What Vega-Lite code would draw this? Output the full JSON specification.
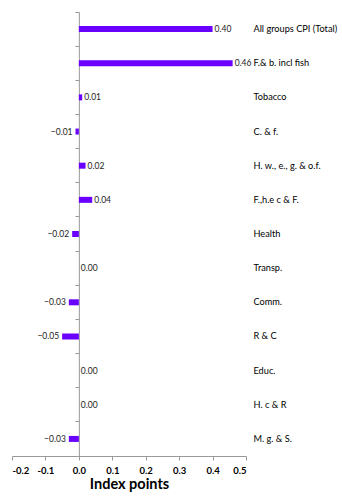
{
  "$schema": "https://vega.github.io/schema/vega-lite/v6.json",
  "autosize": "none",
  "width": 234,
  "height": 444,
  "padding": {"left": 12, "top": 12, "right": 96, "bottom": 43},
  "background": "white",
  "config": {
    "view": {"stroke": null},
    "font": "Lato"
  },
  "data": {
    "values": [
      {"group": "All groups CPI (Total)", "value": 0.40},
      {"group": "F.& b. incl fish", "value": 0.46},
      {"group": "Tobacco", "value": 0.01},
      {"group": "C. & f.", "value": -0.01},
      {"group": "H. w., e., g. & o.f.", "value": 0.02},
      {"group": "F.,h.e c & F.", "value": 0.04},
      {"group": "Health", "value": -0.02},
      {"group": "Transp.", "value": 0.00},
      {"group": "Comm.", "value": -0.03},
      {"group": "R & C", "value": -0.05},
      {"group": "Educ.", "value": 0.00},
      {"group": "H. c & R", "value": 0.00},
      {"group": "M. g. & S.", "value": -0.03}
    ]
  },
  "encoding": {
    "x": {
      "field": "value",
      "type": "quantitative",
      "scale": {"domain": [-0.2, 0.5], "nice": false, "zero": false},
      "axis": {
        "values": [-0.2, -0.1, 0, 0.1, 0.2, 0.3, 0.4, 0.5],
        "labelExpr": "replace(format(datum.value, '.1f'), '\u2212', '-')",
        "title": "Index points",
        "titleFontSize": 14.5,
        "titleFontWeight": "bold",
        "titleColor": "#000",
        "titlePadding": 3,
        "labelFontSize": 9.5,
        "labelFontWeight": "bold",
        "labelColor": "#000",
        "labelPadding": 5,
        "grid": false,
        "domainColor": "#999",
        "tickColor": "#999",
        "tickSize": 4
      }
    },
    "y": {
      "field": "group",
      "type": "nominal",
      "sort": null,
      "scale": {"paddingInner": 0, "paddingOuter": 0}
    }
  },
  "layer": [
    {
      "mark": {"type": "bar", "color": "#6a00ff", "size": 6},
      "encoding": {
        "y": {
          "field": "group",
          "type": "nominal",
          "sort": null,
          "axis": {
            "orient": "left",
            "offset": -66.86,
            "labels": false,
            "title": null,
            "bandPosition": 0,
            "domainColor": "#999",
            "tickColor": "#999",
            "tickSize": 4
          }
        }
      }
    },
    {
      "transform": [{"filter": "datum.value >= 0"}],
      "mark": {"type": "text", "align": "left", "dx": 2, "fontSize": 8.5, "color": "#222"},
      "encoding": {
        "text": {"field": "value", "type": "quantitative", "format": ".2f"},
        "y": {
          "field": "group",
          "type": "nominal",
          "sort": null,
          "axis": {
            "orient": "right",
            "title": null,
            "domain": false,
            "ticks": false,
            "labelPadding": 7,
            "labelFontSize": 9.2,
            "labelColor": "#000",
            "labelLimit": 100
          }
        }
      }
    },
    {
      "transform": [{"filter": "datum.value < 0"}],
      "mark": {"type": "text", "align": "right", "dx": -3, "fontSize": 8.5, "color": "#222"},
      "encoding": {
        "text": {"field": "value", "type": "quantitative", "format": ".2f"},
        "y": {"field": "group", "type": "nominal", "sort": null, "axis": null}
      }
    }
  ],
  "resolve": {"axis": {"y": "independent"}}
}
